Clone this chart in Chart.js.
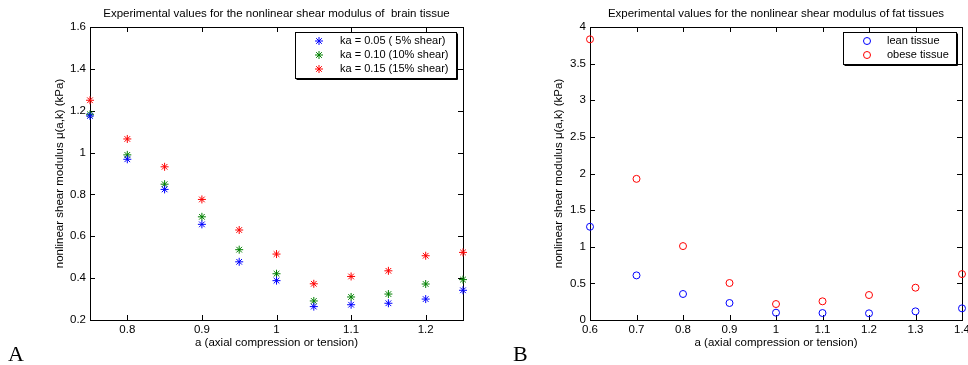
<!DOCTYPE html>
<html>
<head>
<meta charset="utf-8">
<title>Nonlinear shear modulus</title>
<script src="https://cdn.jsdelivr.net/npm/chart.js@4.4.0/dist/chart.umd.min.js"></script>
<style>
  html, body { margin: 0; padding: 0; background: #fff; }
  body { width: 968px; height: 365px; position: relative; overflow: hidden; }
  canvas { position: absolute; top: 0; }
  .panel { position: absolute; font-family: "Liberation Serif", "Times New Roman", serif; font-size: 22px; line-height: 22px; color: #000; }
</style>
</head>
<body>
<canvas id="brainChart" width="484" height="365" style="left:0"></canvas>
<canvas id="fatChart" width="484" height="365" style="left:484px"></canvas>
<div class="panel" style="left:8px;top:343px">A</div>
<div class="panel" style="left:513px;top:343px">B</div>
<script>
// brain tissue (panel A)
const stretchA = [0.75, 0.80, 0.85, 0.90, 0.95, 1.00, 1.05, 1.10, 1.15, 1.20, 1.25];
const shear5  = [1.175, 0.968, 0.824, 0.657, 0.478, 0.388, 0.264, 0.273, 0.280, 0.300, 0.342];
const shear10 = [1.183, 0.989, 0.849, 0.693, 0.536, 0.421, 0.291, 0.310, 0.324, 0.372, 0.393];
const shear15 = [1.250, 1.065, 0.932, 0.776, 0.630, 0.515, 0.373, 0.408, 0.435, 0.507, 0.523];
const xTicksA = [0.8, 0.9, 1.0, 1.1, 1.2];
const yTicksA = [0.2, 0.4, 0.6, 0.8, 1.0, 1.2, 1.4, 1.6];

// fat tissue (panel B)
const stretchB = [0.6, 0.7, 0.8, 0.9, 1.0, 1.1, 1.2, 1.3, 1.4];
const lean  = [1.273, 0.609, 0.355, 0.232, 0.100, 0.095, 0.091, 0.118, 0.159];
const obese = [3.832, 1.927, 1.009, 0.505, 0.218, 0.255, 0.341, 0.441, 0.627];
const xTicksB = [0.6, 0.7, 0.8, 0.9, 1.0, 1.1, 1.2, 1.3, 1.4];
const yTicksB = [0, 0.5, 1, 1.5, 2, 2.5, 3, 3.5, 4];

const FONT = '"Liberation Sans", Arial, Helvetica, sans-serif';
const FS = 11.5;
const fontText = { family: FONT, size: FS };

const toPoints = (xs, ys) => xs.map((x, i) => ({ x: x, y: ys[i] }));

// box round the plot with inward ticks on all four sides (MATLAB style)
const frameTicks = {
    id: 'frameTicks',
    beforeDatasetsDraw(chart, args, opts) {
        const { ctx, chartArea: a, scales: { x, y } } = chart;
        const len = opts.length;
        ctx.save();
        ctx.strokeStyle = '#000';
        ctx.lineWidth = 1;
        ctx.beginPath();
        x.ticks.forEach(t => {
            const px = Math.round(x.getPixelForValue(t.value)) + 0.5;
            ctx.moveTo(px, a.bottom); ctx.lineTo(px, a.bottom - len);
            ctx.moveTo(px, a.top); ctx.lineTo(px, a.top + len);
        });
        y.ticks.forEach(t => {
            const py = Math.round(y.getPixelForValue(t.value)) + 0.5;
            ctx.moveTo(a.left, py); ctx.lineTo(a.left + len, py);
            ctx.moveTo(a.right, py); ctx.lineTo(a.right - len, py);
        });
        ctx.stroke();
        ctx.strokeRect(Math.round(a.left) + 0.5, Math.round(a.top) + 0.5,
            Math.round(a.right - a.left), Math.round(a.bottom - a.top));
        ctx.restore();
    }
};

// legend drawn inside the plot, top right
const innerLegend = {
    id: 'innerLegend',
    afterDraw(chart, args, opts) {
        const { ctx, chartArea: a } = chart;
        const sets = chart.data.datasets;
        ctx.save();
        ctx.font = '11px ' + FONT;
        const textW = Math.max(...sets.map(d => ctx.measureText(d.label).width));
        const w = Math.round(opts.textX + textW + 7);
        const h = sets.length * 14 + 4;
        const left = Math.round(a.right - opts.right - w);
        const top = Math.round(a.top + 5);
        ctx.fillStyle = '#fff';
        ctx.fillRect(left, top, w, h);
        ctx.strokeStyle = '#000';
        ctx.lineWidth = 1;
        ctx.strokeRect(left + 0.5, top + 0.5, w, h);
        // slight shadow on right/bottom
        ctx.beginPath();
        ctx.moveTo(left + w + 1.5, top + 1.5); ctx.lineTo(left + w + 1.5, top + h + 1.5);
        ctx.lineTo(left + 1.5, top + h + 1.5);
        ctx.stroke();
        sets.forEach((d, i) => {
            const yy = top + 9 + i * 14;
            ctx.strokeStyle = d.borderColor;
            ctx.fillStyle = 'rgba(0,0,0,0)';
            Chart.helpers.drawPoint(ctx, {
                pointStyle: d.pointStyle, radius: d.pointRadius, borderWidth: 1, rotation: 0
            }, left + 24, yy);
            ctx.fillStyle = '#000';
            ctx.textAlign = 'left';
            ctx.textBaseline = 'middle';
            ctx.fillText(d.label, left + opts.textX, yy);
        });
        ctx.restore();
    }
};

function makeChart(id, cfg) {
    return new Chart(document.getElementById(id), {
        type: 'scatter',
        data: { datasets: cfg.datasets },
        options: {
            responsive: false,
            animation: false,
            devicePixelRatio: 1,
            layout: { padding: { left: 0, right: cfg.padRight, top: 0, bottom: 0 } },
            plugins: {
                legend: { display: false },
                tooltip: { enabled: false },
                title: {
                    display: true, text: cfg.title, fullSize: false, color: '#000',
                    font: { family: FONT, size: FS, weight: 'normal' },
                    padding: { top: 6.5, bottom: 6.7 }
                },
                innerLegend: { textX: cfg.legendTextX, right: cfg.legendRight },
                frameTicks: { length: 5 }
            },
            scales: {
                x: {
                    type: 'linear', min: cfg.xMin, max: cfg.xMax,
                    afterBuildTicks: s => { s.ticks = cfg.xTicks.map(v => ({ value: v })); },
                    afterFit: s => { s.height = 45; s.paddingLeft = 0; s.paddingRight = 0; },
                    grid: { display: false, drawTicks: false },
                    border: { display: false },
                    ticks: { padding: 3, color: '#000', font: fontText, callback: v => String(v) },
                    title: {
                        display: true, text: 'a (axial compression or tension)', color: '#000',
                        font: fontText, padding: { top: 0, bottom: 15.1 }
                    }
                },
                y: {
                    type: 'linear', min: cfg.yMin, max: cfg.yMax,
                    afterBuildTicks: s => { s.ticks = cfg.yTicks.map(v => ({ value: v })); },
                    afterFit: s => { s.width = cfg.yWidth; s.paddingTop = 0; s.paddingBottom = 0; },
                    grid: { display: false, drawTicks: false },
                    border: { display: false },
                    ticks: { padding: 4, color: '#000', font: fontText, callback: v => String(v) },
                    title: {
                        display: true, text: 'nonlinear shear modulus \u03bc(a,k) (kPa)', color: '#000',
                        font: fontText, padding: { top: cfg.yTitlePad, bottom: 0 }
                    }
                }
            }
        },
        plugins: [frameTicks, innerLegend]
    });
}

const star = (label, color, ys) => ({
    label: label, data: toPoints(stretchA, ys), pointStyle: 'star', pointRadius: 4,
    borderColor: color, backgroundColor: color, pointBorderWidth: 1, showLine: false, clip: false
});
const ring = (label, color, ys) => ({
    label: label, data: toPoints(stretchB, ys), pointStyle: 'circle', pointRadius: 3.5,
    borderColor: color, backgroundColor: 'rgba(0,0,0,0)', pointBorderWidth: 1, showLine: false, clip: false
});

makeChart('brainChart', {
    title: 'Experimental values for the nonlinear shear modulus of  brain tissue',
    datasets: [
        star('ka = 0.05 ( 5% shear)', '#0000ff', shear5),
        star('ka = 0.10 (10% shear)', '#008000', shear10),
        star('ka = 0.15 (15% shear)', '#ff0000', shear15)
    ],
    xMin: 0.75, xMax: 1.25, xTicks: xTicksA,
    yMin: 0.2, yMax: 1.6, yTicks: yTicksA,
    yWidth: 90, yTitlePad: 53, padRight: 21,
    legendTextX: 45, legendRight: 7
});

makeChart('fatChart', {
    title: 'Experimental values for the nonlinear shear modulus of fat tissues',
    datasets: [
        ring('lean tissue', '#0000ff', lean),
        ring('obese tissue', '#ff0000', obese)
    ],
    xMin: 0.6, xMax: 1.4, xTicks: xTicksB,
    yMin: 0, yMax: 4, yTicks: yTicksB,
    yWidth: 106, yTitlePad: 68, padRight: 6,
    legendTextX: 44, legendRight: 6
});
</script>
</body>
</html>
